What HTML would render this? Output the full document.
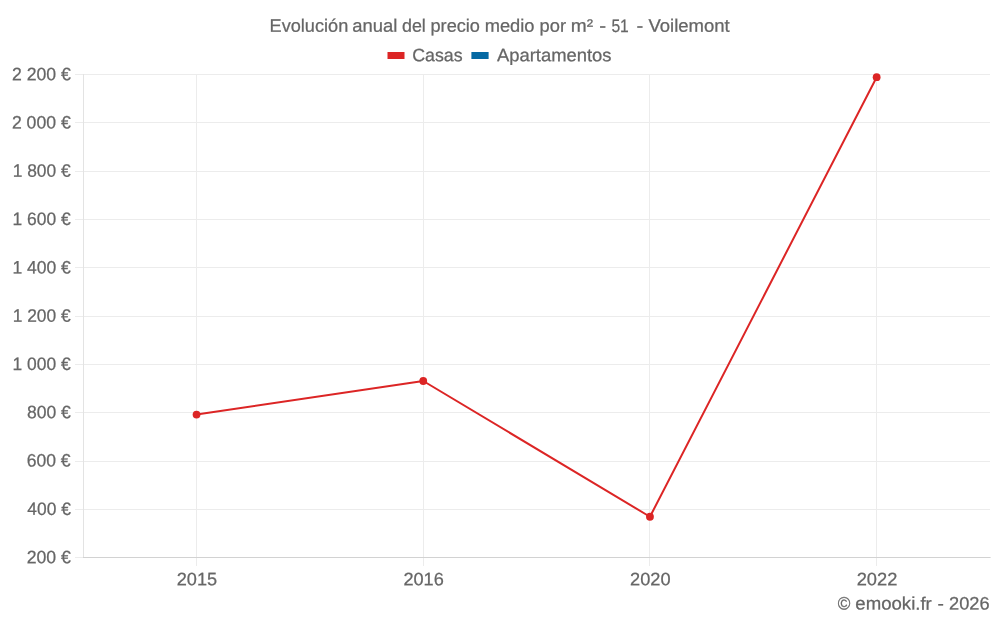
<!DOCTYPE html><html><head><meta charset="utf-8"><title>chart</title><style>html,body{margin:0;padding:0;background:#fff}svg{display:block;will-change:transform}text{font-family:"Liberation Sans",sans-serif;font-size:18px;fill:#666666;stroke:#666666;stroke-width:0.25px;text-rendering:geometricPrecision}</style></head><body>
<svg width="1000" height="625" viewBox="0 0 1000 625">
<rect width="1000" height="625" fill="#fff"/>
<g shape-rendering="crispEdges" stroke-width="1">
<line x1="196.5" y1="74" x2="196.5" y2="565.5" stroke="#ececec"/>
<line x1="423.5" y1="74" x2="423.5" y2="565.5" stroke="#ececec"/>
<line x1="649.5" y1="74" x2="649.5" y2="565.5" stroke="#ececec"/>
<line x1="876.5" y1="74" x2="876.5" y2="565.5" stroke="#ececec"/>
<line x1="75" y1="74.5" x2="990" y2="74.5" stroke="#ececec"/>
<line x1="75" y1="122.5" x2="990" y2="122.5" stroke="#ececec"/>
<line x1="75" y1="171.5" x2="990" y2="171.5" stroke="#ececec"/>
<line x1="75" y1="219.5" x2="990" y2="219.5" stroke="#ececec"/>
<line x1="75" y1="267.5" x2="990" y2="267.5" stroke="#ececec"/>
<line x1="75" y1="316.5" x2="990" y2="316.5" stroke="#ececec"/>
<line x1="75" y1="364.5" x2="990" y2="364.5" stroke="#ececec"/>
<line x1="75" y1="412.5" x2="990" y2="412.5" stroke="#ececec"/>
<line x1="75" y1="461.5" x2="990" y2="461.5" stroke="#ececec"/>
<line x1="75" y1="509.5" x2="990" y2="509.5" stroke="#ececec"/>
<line x1="75" y1="557.5" x2="990" y2="557.5" stroke="#ececec"/>
<line x1="83.5" y1="74" x2="83.5" y2="558" stroke="#e3e3e3"/>
<line x1="83" y1="557.5" x2="990" y2="557.5" stroke="#d2d2d2"/>
<line x1="990" y1="557.5" x2="991" y2="557.5" stroke="#e4e4e4"/>
</g>
<polyline fill="none" stroke="#dc2525" stroke-width="2" stroke-linejoin="round" points="196.55,414.60 423.25,381.00 649.95,516.75 876.65,77.20"/>
<circle cx="196.55" cy="414.60" r="3.9" fill="#dc2525"/>
<circle cx="423.25" cy="381.00" r="3.9" fill="#dc2525"/>
<circle cx="649.95" cy="516.75" r="3.9" fill="#dc2525"/>
<circle cx="876.65" cy="77.20" r="3.9" fill="#dc2525"/>
<rect x="387.5" y="52" width="17" height="7" fill="#dc2525"/>
<rect x="471.4" y="52" width="17.2" height="7" fill="#0569a3"/>
<text x="269.59" y="31.70" transform="rotate(0.03 269.59 31.70)" textLength="78.66" lengthAdjust="spacingAndGlyphs">Evolución</text>
<text x="352.21" y="31.70" transform="rotate(0.03 352.21 31.70)" textLength="45.03" lengthAdjust="spacingAndGlyphs">anual</text>
<text x="401.99" y="31.70" transform="rotate(0.03 401.99 31.70)" textLength="23.85" lengthAdjust="spacingAndGlyphs">del</text>
<text x="430.49" y="31.70" transform="rotate(0.03 430.49 31.70)" textLength="49.47" lengthAdjust="spacingAndGlyphs">precio</text>
<text x="484.67" y="31.70" transform="rotate(0.03 484.67 31.70)" textLength="49.80" lengthAdjust="spacingAndGlyphs">medio</text>
<text x="539.54" y="31.70" transform="rotate(0.03 539.54 31.70)" textLength="26.46" lengthAdjust="spacingAndGlyphs">por</text>
<text x="570.84" y="31.70" transform="rotate(0.03 570.84 31.70)" textLength="22.28" lengthAdjust="spacingAndGlyphs">m²</text>
<text x="599.35" y="31.70" transform="rotate(0.03 599.35 31.70)" textLength="6.89" lengthAdjust="spacingAndGlyphs">-</text>
<text x="611.38" y="31.70" transform="rotate(0.03 611.38 31.70)" textLength="17.40" lengthAdjust="spacingAndGlyphs">51</text>
<text x="636.42" y="31.70" transform="rotate(0.03 636.42 31.70)" textLength="6.82" lengthAdjust="spacingAndGlyphs">-</text>
<text x="648.41" y="31.70" transform="rotate(0.03 648.41 31.70)" textLength="81.28" lengthAdjust="spacingAndGlyphs">Voilemont</text>
<text x="412.16" y="61.20" transform="rotate(0.03 412.16 61.20)" textLength="50.40" lengthAdjust="spacingAndGlyphs">Casas</text>
<text x="496.96" y="61.20" transform="rotate(0.03 496.96 61.20)" textLength="114.61" lengthAdjust="spacingAndGlyphs">Apartamentos</text>
<text x="12.01" y="80.18" transform="rotate(0.03 12.01 80.18)" textLength="58.88" lengthAdjust="spacingAndGlyphs">2 200 €</text>
<text x="11.88" y="128.48" transform="rotate(0.03 11.88 128.48)" textLength="58.85" lengthAdjust="spacingAndGlyphs">2 000 €</text>
<text x="12.65" y="176.78" transform="rotate(0.03 12.65 176.78)" textLength="57.98" lengthAdjust="spacingAndGlyphs">1 800 €</text>
<text x="12.60" y="225.08" transform="rotate(0.03 12.60 225.08)" textLength="58.13" lengthAdjust="spacingAndGlyphs">1 600 €</text>
<text x="12.40" y="273.38" transform="rotate(0.03 12.40 273.38)" textLength="58.45" lengthAdjust="spacingAndGlyphs">1 400 €</text>
<text x="12.65" y="321.68" transform="rotate(0.03 12.65 321.68)" textLength="57.98" lengthAdjust="spacingAndGlyphs">1 200 €</text>
<text x="12.60" y="369.98" transform="rotate(0.03 12.60 369.98)" textLength="58.13" lengthAdjust="spacingAndGlyphs">1 000 €</text>
<text x="26.91" y="418.28" transform="rotate(0.03 26.91 418.28)" textLength="43.92" lengthAdjust="spacingAndGlyphs">800 €</text>
<text x="26.75" y="466.58" transform="rotate(0.03 26.75 466.58)" textLength="43.87" lengthAdjust="spacingAndGlyphs">600 €</text>
<text x="27.34" y="514.88" transform="rotate(0.03 27.34 514.88)" textLength="43.47" lengthAdjust="spacingAndGlyphs">400 €</text>
<text x="26.73" y="563.18" transform="rotate(0.03 26.73 563.18)" textLength="44.22" lengthAdjust="spacingAndGlyphs">200 €</text>
<text x="176.74" y="585.30" transform="rotate(0.03 176.74 585.30)" textLength="40.37" lengthAdjust="spacingAndGlyphs">2015</text>
<text x="403.41" y="585.30" transform="rotate(0.03 403.41 585.30)" textLength="40.40" lengthAdjust="spacingAndGlyphs">2016</text>
<text x="630.05" y="585.30" transform="rotate(0.03 630.05 585.30)" textLength="40.48" lengthAdjust="spacingAndGlyphs">2020</text>
<text x="856.70" y="585.30" transform="rotate(0.03 856.70 585.30)" textLength="40.63" lengthAdjust="spacingAndGlyphs">2022</text>
<text x="837.65" y="609.60" transform="rotate(0.03 837.65 609.60)" textLength="12.60" lengthAdjust="spacingAndGlyphs">©</text>
<text x="855.31" y="609.60" transform="rotate(0.03 855.31 609.60)" textLength="76.51" lengthAdjust="spacingAndGlyphs">emooki.fr</text>
<text x="937.51" y="609.60" transform="rotate(0.03 937.51 609.60)" textLength="6.40" lengthAdjust="spacingAndGlyphs">-</text>
<text x="949.02" y="609.60" transform="rotate(0.03 949.02 609.60)" textLength="40.53" lengthAdjust="spacingAndGlyphs">2026</text>
</svg></body></html>
